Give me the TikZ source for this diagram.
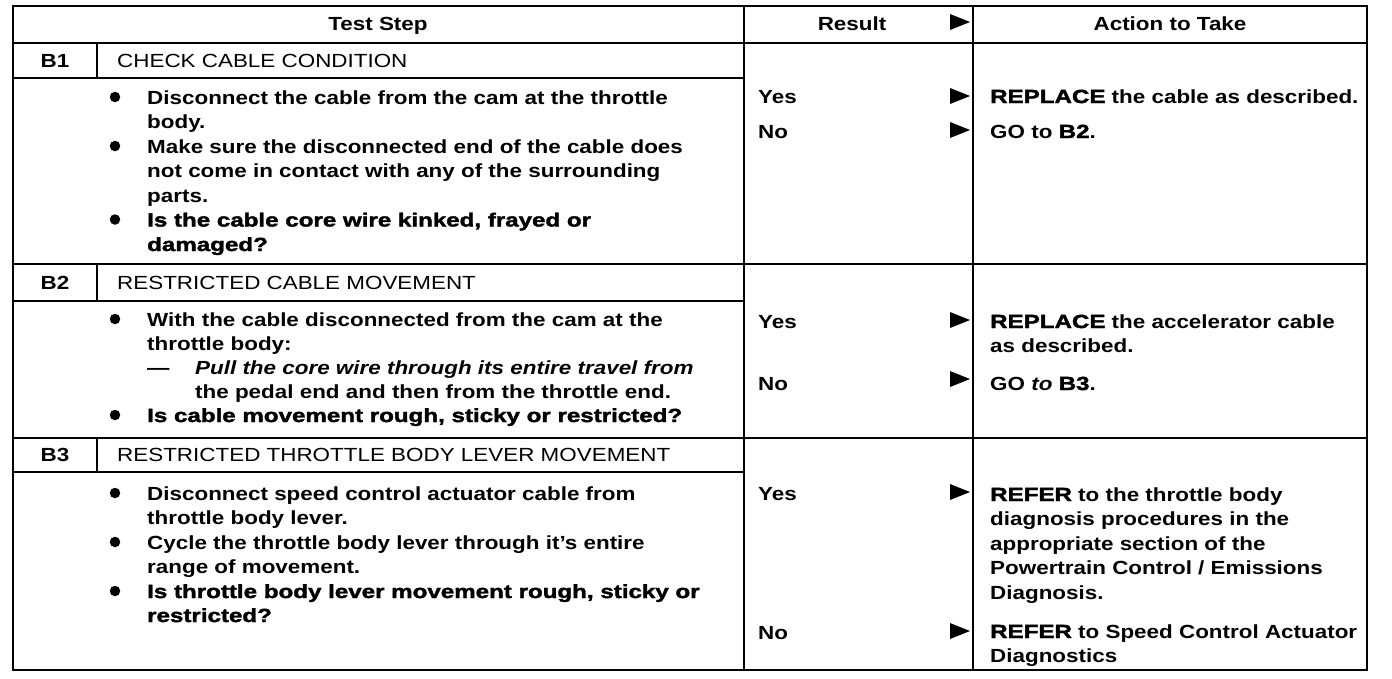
\documentclass[tikz,border=0pt]{standalone}
\usepackage{fontspec}
\setmainfont{Liberation Sans}[FakeStretch=1.18]
\newfontfamily\qfont{Liberation Sans}[FakeStretch=1.27,BoldFeatures={FakeBold=2}]
\newcommand\qb[1]{{\qfont\bfseries #1}}
\newcommand\resarrow[1]{\fill (950,#1) ++(0,-8) -- ++(20,8) -- ++(-20,8) -- cycle;}
\begin{document}
\begin{tikzpicture}[x=1pt,y=-1pt,
  tbl/.style={line width=2pt,line cap=rect},
  txt/.style={anchor=base west,inner sep=0pt,font=\fontsize{19}{24}\selectfont\bfseries},
  ttl/.style={anchor=base west,inner sep=0pt,font=\fontsize{19}{24}\selectfont},
  qtxt/.style={anchor=base west,inner sep=0pt,font=\fontsize{19}{24}\selectfont\qfont\bfseries},
  hdr/.style={anchor=base,inner sep=0pt,font=\fontsize{19}{24}\selectfont\bfseries},
  bul/.style={circle,fill=black,inner sep=0pt,minimum size=10.5pt}]
\useasboundingbox (0,0) rectangle (1392,678);
\fill[white] (0,0) rectangle (1392,678);
% table rules
\draw[tbl] (13,6) rectangle (1367,670);
\draw[tbl] (13,43) -- (1367,43);
\draw[tbl] (744,6) -- (744,670);
\draw[tbl] (973,6) -- (973,670);
\draw[tbl] (13,78) -- (744,78);
\draw[tbl] (13,264) -- (1367,264);
\draw[tbl] (13,301) -- (744,301);
\draw[tbl] (13,438) -- (1367,438);
\draw[tbl] (13,472) -- (744,472);
\draw[tbl] (97,43) -- (97,78);
\draw[tbl] (97,264) -- (97,301);
\draw[tbl] (97,438) -- (97,472);
% header
\node[hdr] (hstep) at (378,30) {Test Step};
\node[hdr] (hres) at (852,30) {Result};
\node[hdr] (hact) at (1170,30) {Action to Take};
\resarrow{22}
% ---------- B1 ----------
\node[hdr] (b1n) at (55,67) {B1};
\node[ttl] (b1t) at (117,67) {CHECK CABLE CONDITION};
\node[bul] (b1u1) at (115,97) {};
\node[txt] (b1l1) at (147,104) {Disconnect the cable from the cam at the throttle};
\node[txt] (b1l2) at (147,128.5) {body.};
\node[bul] (b1u2) at (115,146) {};
\node[txt] (b1l3) at (147,153) {Make sure the disconnected end of the cable does};
\node[txt] (b1l4) at (147,177.5) {not come in contact with any of the surrounding};
\node[txt] (b1l5) at (147,202) {parts.};
\node[bul] (b1u3) at (115,219.5) {};
\node[qtxt] (b1l6) at (147,226.5) {Is the cable core wire kinked, frayed or};
\node[qtxt] (b1l7) at (147,251) {damaged?};
\node[txt] (b1y) at (758,103) {Yes};
\node[txt] (b1no) at (758,138) {No};
\resarrow{96}
\resarrow{130}
\node[txt] (b1a1) at (990,103) {\qb{REPLACE} the cable as described.};
\node[txt] (b1a2) at (990,138) {GO to \qb{B2}.};
% ---------- B2 ----------
\node[hdr] (b2n) at (55,289) {B2};
\node[ttl] (b2t) at (117,289) {RESTRICTED CABLE MOVEMENT};
\node[bul] (b2u1) at (115,319) {};
\node[txt] (b2l1) at (147,326) {With the cable disconnected from the cam at the};
\node[txt] (b2l2) at (147,350) {throttle body:};
\node[txt] (b2d) at (147,374) {\textemdash};
\node[txt] (b2l3) at (195,374) {\itshape Pull the core wire through its entire travel from};
\node[txt] (b2l4) at (195,398) {the pedal end and then from the throttle end.};
\node[bul] (b2u2) at (115,415) {};
\node[qtxt] (b2l5) at (147,422) {Is cable movement rough, sticky or restricted?};
\node[txt] (b2y) at (758,328) {Yes};
\node[txt] (b2no) at (758,390) {No};
\resarrow{320}
\resarrow{379}
\node[txt] (b2a1) at (990,328) {\qb{REPLACE} the accelerator cable};
\node[txt] (b2a2) at (990,352) {as described.};
\node[txt] (b2a3) at (990,390) {GO \textit{to} \qb{B3}.};
% ---------- B3 ----------
\node[hdr] (b3n) at (55,461) {B3};
\node[ttl] (b3t) at (117,461) {RESTRICTED THROTTLE BODY LEVER MOVEMENT};
\node[bul] (b3u1) at (115,493) {};
\node[txt] (b3l1) at (147,500) {Disconnect speed control actuator cable from};
\node[txt] (b3l2) at (147,524) {throttle body lever.};
\node[bul] (b3u2) at (115,542) {};
\node[txt] (b3l3) at (147,549) {Cycle the throttle body lever through it's entire};
\node[txt] (b3l4) at (147,573) {range of movement.};
\node[bul] (b3u3) at (115,591) {};
\node[qtxt] (b3l5) at (147,598) {Is throttle body lever movement rough, sticky or};
\node[qtxt] (b3l6) at (147,622) {restricted?};
\node[txt] (b3y) at (758,500) {Yes};
\node[txt] (b3no) at (758,639) {No};
\resarrow{492}
\resarrow{631}
\node[txt] (b3a1) at (990,501) {\qb{REFER} to the throttle body};
\node[txt] (b3a2) at (990,525) {diagnosis procedures in the};
\node[txt] (b3a3) at (990,550) {appropriate section of the};
\node[txt] (b3a4) at (990,574) {Powertrain Control / Emissions};
\node[txt] (b3a5) at (990,599) {Diagnosis.};
\node[txt] (b3a6) at (990,638) {\qb{REFER} to Speed Control Actuator};
\node[txt] (b3a7) at (990,662) {Diagnostics};
\end{tikzpicture}
\end{document}
